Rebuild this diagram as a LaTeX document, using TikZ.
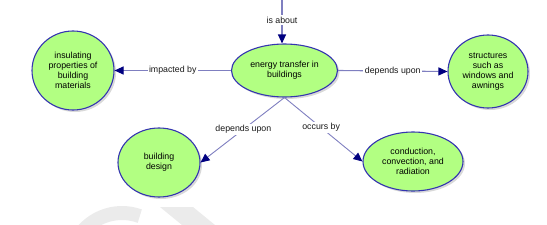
\documentclass[tikz,border=0pt]{standalone}
\usepackage{fontspec}
\setmainfont{Liberation Sans}
\usetikzlibrary{shapes.geometric,shadows,arrows.meta}
\definecolor{nodefill}{HTML}{B2FF82}
\definecolor{nodeborder}{HTML}{3535B0}
\definecolor{linkcol}{HTML}{7F7FC0}
\definecolor{tipcol}{HTML}{000080}
\definecolor{wm}{HTML}{EBEBEB}
\tikzset{
  concept/.style={ellipse, draw=nodeborder, line width=1.1pt, fill=nodefill,
    inner sep=0pt, align=center,
    font=\fontsize{8.8}{10}\selectfont,
    drop shadow={opacity=0.3, shadow xshift=2pt, shadow yshift=-2pt}},
  link/.style={draw=linkcol, line width=1.1pt,
    -{Triangle[length=9pt,width=8pt,color=tipcol]}},
  lbl/.style={fill=white, inner sep=1.5pt, font=\fontsize{8.8}{10}\selectfont, text=black!90}
}
\begin{document}
\begin{tikzpicture}[x=1pt,y=-1pt]
\useasboundingbox (0,0) rectangle (547,225);
% faint watermark
\draw[wm, line width=14pt] (122,265) ++(-155:52) arc[start angle=-155, end angle=-70, radius=52];
\fill[wm] (160,207) -- (193,207) -- (215,225) -- (182,225) -- cycle;
% nodes
\node[concept, minimum width=82pt, minimum height=79pt] (ins) at (73,70.5)
  {insulating\\properties of\\building\\materials};
\node[concept, minimum width=106pt, minimum height=53pt] (ene) at (284.5,70.5)
  {energy transfer in\\buildings};
\node[concept, minimum width=80pt, minimum height=73pt] (str) at (488,71.5)
  {structures\\such as\\windows and\\awnings};
\node[concept, minimum width=82pt, minimum height=69pt] (des) at (159,162.5)
  {building\\design};
\node[concept, minimum width=100pt, minimum height=59pt] (con) at (413,161.5)
  {conduction,\\convection, and\\radiation};
\coordinate (top) at (282,0);
% links
\draw[link] (top) -- node[lbl, pos=0.46] {is about} (top |- ene.north);
\draw[link] (ene.west) -- node[lbl] {impacted by} (ins.east);
\draw[link] (ene.east) -- node[lbl] {depends upon} (str.west);
\draw[link, line width=0.9pt] (ene.south) -- node[lbl, pos=0.49] {depends upon} (des.east);
\draw[link, line width=0.9pt] (ene.south) -- node[lbl, pos=0.47] {occurs by} (con.west);
\end{tikzpicture}
\end{document}
